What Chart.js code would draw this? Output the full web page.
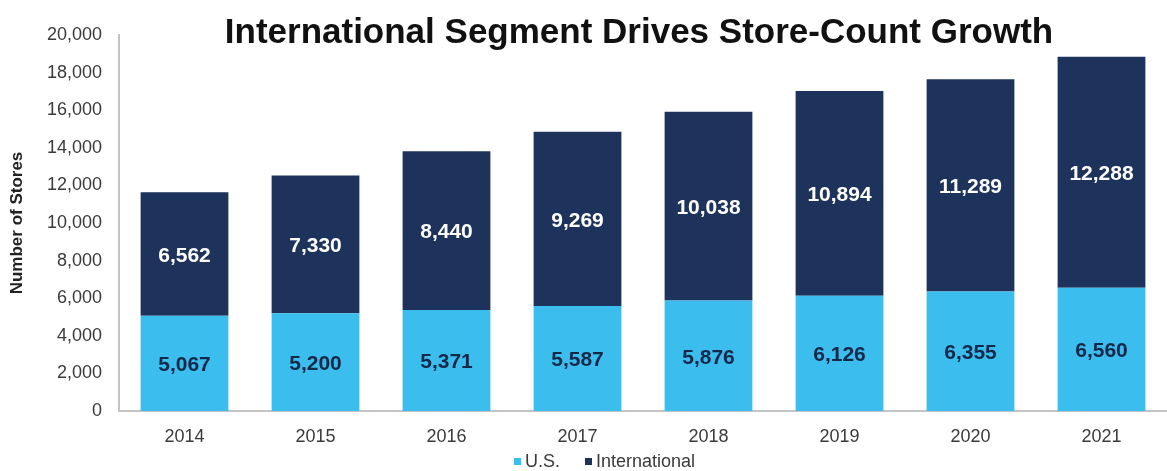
<!DOCTYPE html>
<html>
<head>
<meta charset="utf-8">
<script src="https://cdn.jsdelivr.net/npm/chart.js@4"></script>
<style>
    html, body { margin: 0; padding: 0; background: #ffffff; }
    #wrap { width: 1167px; height: 471px; }
</style>
</head>
<body>
<div id="wrap"><canvas id="storeChart" width="1167" height="471"></canvas></div>
<script>
// ========================================
// DATA
// ========================================

const years = ['2014', '2015', '2016', '2017', '2018', '2019', '2020', '2021'];
const usStores = [5067, 5200, 5371, 5587, 5876, 6126, 6355, 6560];
const intlStores = [6562, 7330, 8440, 9269, 10038, 10894, 11289, 12288];
const yTicks = [0, 2000, 4000, 6000, 8000, 10000, 12000, 14000, 16000, 18000, 20000];

const chartTitle = 'International Segment Drives Store-Count Growth';
const US_COLOR = '#3bbdee';
const INTL_COLOR = '#1e335c';
const TICK_COLOR = '#3a3a3a';
const FONT = '"Liberation Sans", Arial, sans-serif';

// ========================================
// PLUGINS
// ========================================

// Title drawn over the plot area so it doesn't push the axes down
const titlePlugin = {
    id: 'plotTitle',
    afterDraw(chart) {
        const { ctx, chartArea: { left, right } } = chart;
        ctx.save();
        ctx.fillStyle = '#111111';
        ctx.font = 'bold 35px ' + FONT;
        ctx.textAlign = 'center';
        ctx.textBaseline = 'alphabetic';
        ctx.fillText(chartTitle, (left + right) / 2 - 4, 43);
        ctx.restore();
    }
};

// Value labels centered in each stacked segment
const segmentLabels = {
    id: 'segmentLabels',
    afterDatasetsDraw(chart) {
        const { ctx } = chart;
        ctx.save();
        ctx.font = 'bold 21px ' + FONT;
        ctx.textAlign = 'center';
        ctx.textBaseline = 'middle';
        chart.data.datasets.forEach((ds, di) => {
            const meta = chart.getDatasetMeta(di);
            ctx.fillStyle = di === 0 ? '#14284a' : '#ffffff';
            meta.data.forEach((bar, i) => {
                const mid = (bar.y + bar.base) / 2;
                ctx.fillText(ds.data[i].toLocaleString('en-US'), bar.x, mid + 2);
            });
        });
        ctx.restore();
    }
};

// Compact legend under the year labels, small squares hugging the text
const compactLegend = {
    id: 'compactLegend',
    afterDraw(chart) {
        const { ctx } = chart;
        const y = 461;
        let x = 514;
        ctx.save();
        ctx.font = '18px ' + FONT;
        ctx.textBaseline = 'middle';
        ctx.textAlign = 'left';
        chart.data.datasets.forEach(ds => {
            ctx.fillStyle = ds.backgroundColor;
            ctx.fillRect(x, y - 3, 7, 7);
            x += 11;
            ctx.fillStyle = TICK_COLOR;
            ctx.fillText(ds.label, x, y + 1);
            x += ctx.measureText(ds.label).width + 25;
        });
        ctx.restore();
    }
};

// ========================================
// CHART
// ========================================

const ctx = document.getElementById('storeChart').getContext('2d');

new Chart(ctx, {
    type: 'bar',
    data: {
        labels: years,
        datasets: [
            {
                label: 'U.S.',
                data: usStores,
                backgroundColor: US_COLOR,
                barPercentage: 0.67,
                categoryPercentage: 1.0
            },
            {
                label: 'International',
                data: intlStores,
                backgroundColor: INTL_COLOR,
                barPercentage: 0.67,
                categoryPercentage: 1.0
            }
        ]
    },
    options: {
        responsive: false,
        animation: false,
        layout: {
            padding: { top: 35, right: 0, left: 0, bottom: 0 }
        },
        plugins: {
            legend: { display: false },
            tooltip: { enabled: false }
        },
        scales: {
            x: {
                stacked: true,
                grid: { display: false, drawTicks: false },
                border: { color: '#c4c4c4', width: 2 },
                afterFit(scale) {
                    scale.height = 471 - 411;
                },
                ticks: {
                    color: TICK_COLOR,
                    padding: 15,
                    font: { family: FONT, size: 18 }
                }
            },
            y: {
                stacked: true,
                min: 0,
                max: 20000,
                afterBuildTicks(axis) {
                    axis.ticks = yTicks.map(v => ({ value: v }));
                },
                afterFit(scale) {
                    scale.width = 119;
                },
                grid: { display: false, drawTicks: false },
                border: { color: '#c4c4c4', width: 2 },
                title: {
                    display: true,
                    text: 'Number of Stores',
                    color: '#222222',
                    font: { family: FONT, size: 17, weight: 'bold' },
                    padding: { top: 7, bottom: 4 }
                },
                ticks: {
                    color: TICK_COLOR,
                    padding: 17,
                    font: { family: FONT, size: 18 },
                    callback: v => v.toLocaleString('en-US')
                }
            }
        }
    },
    plugins: [titlePlugin, segmentLabels, compactLegend]
});
</script>
</body>
</html>
